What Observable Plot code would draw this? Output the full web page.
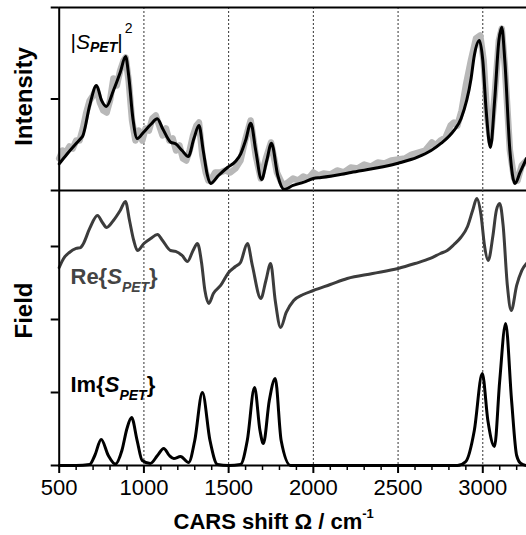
<!DOCTYPE html>
<html><head><meta charset="utf-8">
<script src="https://cdn.jsdelivr.net/npm/d3@7"></script>
<script src="https://cdn.jsdelivr.net/npm/@observablehq/plot@0.6"></script>
<style>
html,body{margin:0;padding:0;background:#fff;}
#wrap{position:relative;width:526px;height:535px;overflow:hidden;background:#fff;}
#wrap svg{position:absolute;left:0;}
</style></head><body><div id="wrap"></div>
<script>
// ---------- data ----------
const majorTicks = [500, 1000, 1500, 2000, 2500, 3000];
const minorTicks = [600, 700, 800, 900, 1100, 1200, 1300, 1400, 1600, 1700, 1800, 1900, 2100, 2200, 2300, 2400, 2600, 2700, 2800, 2900, 3100, 3200];
const gridShifts = [1000, 1500, 2000, 2500, 3000];
const intensityTicks = [0, 1, 2];
const fieldTicks = [0, 1, 2, 3];

// fitted |S_PET|^2 (black)
const fitShift = [500, 549, 600, 626, 640, 680, 720, 750, 778, 820, 860, 892, 910, 935, 961, 998, 1040, 1079, 1110, 1158, 1187, 1225, 1262, 1295, 1325, 1350, 1375, 1393, 1440, 1493, 1540, 1572, 1600, 1631, 1660, 1694, 1725, 1753, 1790, 1827, 1880, 1944, 2000, 2045, 2222, 2500, 2615, 2695, 2753, 2830, 2872, 2931, 2950, 2980, 3000, 3020, 3045, 3070, 3095, 3112, 3130, 3160, 3190, 3220, 3258];
const fitIntensity = [0.291, 0.404, 0.514, 0.565, 0.60, 0.93, 1.148, 0.984, 0.918, 1.093, 1.29, 1.464, 1.257, 0.787, 0.568, 0.637, 0.721, 0.784, 0.678, 0.528, 0.510, 0.437, 0.372, 0.568, 0.710, 0.437, 0.164, 0.077, 0.164, 0.251, 0.317, 0.404, 0.546, 0.736, 0.437, 0.120, 0.328, 0.517, 0.164, 0.011, 0.055, 0.091, 0.131, 0.142, 0.197, 0.298, 0.364, 0.437, 0.514, 0.656, 0.787, 1.224, 1.475, 1.639, 1.421, 0.874, 0.470, 0.984, 1.639, 1.785, 1.421, 0.437, 0.077, 0.197, 0.350];

// measured intensity (grey)
const expShift = [500, 520, 540, 560, 580, 600, 620, 640, 660, 680, 700, 720, 740, 760, 780, 800, 820, 840, 860, 880, 892, 910, 930, 950, 970, 990, 1010, 1030, 1050, 1070, 1090, 1110, 1130, 1150, 1170, 1190, 1210, 1230, 1250, 1270, 1290, 1310, 1325, 1345, 1365, 1380, 1400, 1420, 1450, 1480, 1510, 1540, 1570, 1600, 1630, 1660, 1690, 1720, 1750, 1785, 1820, 1850, 1880, 1910, 1940, 1970, 2000, 2030, 2060, 2100, 2140, 2180, 2220, 2260, 2300, 2340, 2380, 2420, 2460, 2500, 2540, 2580, 2620, 2660, 2700, 2720, 2750, 2780, 2810, 2830, 2850, 2875, 2900, 2930, 2960, 2985, 3005, 3025, 3045, 3070, 3095, 3112, 3130, 3160, 3185, 3205, 3230, 3258];
const expIntensity = [0.35, 0.437, 0.415, 0.481, 0.459, 0.546, 0.546, 0.678, 0.852, 0.984, 1.038, 1.115, 0.962, 0.874, 0.852, 0.984, 1.224, 1.148, 1.311, 1.421, 1.454, 1.202, 0.765, 0.546, 0.656, 0.546, 0.678, 0.656, 0.787, 0.820, 0.710, 0.601, 0.678, 0.546, 0.568, 0.437, 0.492, 0.350, 0.328, 0.437, 0.601, 0.710, 0.743, 0.383, 0.197, 0.109, 0.131, 0.197, 0.197, 0.219, 0.197, 0.240, 0.328, 0.568, 0.765, 0.383, 0.131, 0.350, 0.525, 0.197, 0.055, 0.087, 0.131, 0.109, 0.153, 0.131, 0.197, 0.164, 0.186, 0.175, 0.219, 0.197, 0.251, 0.240, 0.284, 0.262, 0.306, 0.295, 0.328, 0.339, 0.350, 0.393, 0.415, 0.437, 0.525, 0.492, 0.546, 0.579, 0.710, 0.743, 0.710, 0.874, 1.148, 1.421, 1.661, 1.694, 1.421, 0.820, 0.546, 1.038, 1.639, 1.770, 1.366, 0.437, 0.131, 0.109, 0.273, 0.328];

// Re{S_PET}
const reShift = [500, 526, 560, 600, 626, 640, 680, 726, 755, 780, 820, 860, 891, 915, 940, 962, 1000, 1040, 1080, 1110, 1157, 1187, 1225, 1257, 1290, 1316, 1340, 1360, 1383, 1410, 1453, 1500, 1540, 1570, 1611, 1640, 1690, 1720, 1748, 1775, 1807, 1840, 1884, 1940, 2000, 2100, 2200, 2350, 2500, 2600, 2690, 2750, 2790, 2830, 2870, 2910, 2940, 2965, 2990, 3010, 3032, 3060, 3080, 3100, 3120, 3145, 3168, 3200, 3230, 3258];
const reField = [2.712, 2.836, 2.918, 2.973, 2.986, 3.027, 3.247, 3.425, 3.329, 3.260, 3.356, 3.493, 3.616, 3.356, 3.082, 2.945, 3.041, 3.110, 3.164, 3.082, 2.945, 2.932, 2.877, 2.795, 2.945, 3.041, 2.781, 2.397, 2.219, 2.356, 2.466, 2.644, 2.726, 2.781, 3.041, 2.740, 2.288, 2.534, 2.767, 2.260, 1.890, 2.096, 2.260, 2.342, 2.397, 2.479, 2.562, 2.630, 2.699, 2.767, 2.836, 2.904, 2.945, 3.027, 3.123, 3.274, 3.493, 3.658, 3.425, 3.014, 2.808, 3.151, 3.493, 3.589, 3.288, 2.466, 2.123, 2.466, 2.671, 2.767];

// Im{S_PET}
const imShift = [500, 600, 680, 710, 748, 790, 832, 870, 900, 927, 960, 990, 1038, 1080, 1117, 1150, 1176, 1216, 1264, 1300, 1345, 1390, 1434, 1500, 1570, 1610, 1653, 1685, 1705, 1740, 1775, 1810, 1866, 2000, 2500, 2850, 2900, 2950, 2997, 3030, 3069, 3100, 3135, 3170, 3200, 3225, 3258];
const imField = [0, 0, 0.014, 0.137, 0.356, 0.137, 0.02, 0.205, 0.507, 0.658, 0.342, 0.068, 0.027, 0.137, 0.233, 0.137, 0.096, 0.123, 0.041, 0.342, 1.0, 0.342, 0.014, 0, 0.014, 0.342, 1.068, 0.479, 0.301, 0.890, 1.192, 0.342, 0, 0, 0, 0, 0.055, 0.479, 1.26, 0.616, 0.26, 1.164, 1.945, 0.890, 0.137, 0.027, 0];

const zip = (xs, ys) => xs.map((x, i) => ({shift: x, value: ys[i]}));
const fitData = zip(fitShift, fitIntensity);
const expData = zip(expShift, expIntensity);
const reData = zip(reShift, reField);
const imData = zip(imShift, imField);

// ---------- layout ----------
const FONT = "'Liberation Sans', Arial, Helvetica, sans-serif";
const W = 526, ML = 58.7;
const xDomain = [500, 3258];

const topPlot = Plot.plot({
  width: W, height: 191, marginLeft: ML, marginRight: 0, marginTop: 7, marginBottom: 1,
  style: {fontFamily: FONT, background: "transparent", overflow: "visible", color: "#000"},
  x: {domain: xDomain, axis: null},
  y: {domain: [0, 2], axis: null},
  marks: [
    Plot.ruleX(gridShifts, {stroke: "#333", strokeWidth: 1, strokeDasharray: "2,2"}),
    Plot.line(expData, {x: "shift", y: "value", stroke: "#b8b8b8", strokeWidth: 6.5, strokeLinejoin: "round", curve: "linear"}),
    Plot.line(fitData, {x: "shift", y: "value", stroke: "#000", strokeWidth: 3, curve: "monotone-x"}),
    Plot.ruleY([2, 0], {stroke: "#000", strokeWidth: 2}),
    Plot.ruleX([500], {stroke: "#000", strokeWidth: 2}),
    Plot.axisY({ticks: intensityTicks, tickSize: 8, strokeWidth: 2, tickFormat: () => "", label: null}),
    Plot.text(["Intensity"], {frameAnchor: "left", textAnchor: "middle", lineAnchor: "middle", dx: -34.7, dy: -2.5, rotate: -90, fontSize: 24, fontWeight: "bold", fill: "#000"}),
    Plot.text(["LBL_INT"], {frameAnchor: "top-left", textAnchor: "start", lineAnchor: "bottom", dx: 11.3, dy: 41, fontSize: 21, fill: "#000"})
  ]
});

const botPlot = Plot.plot({
  width: W, height: 345, marginLeft: ML, marginRight: 0, marginTop: 0, marginBottom: 70,
  style: {fontFamily: FONT, background: "transparent", overflow: "visible", color: "#000", fontSize: "22px"},
  x: {domain: xDomain, axis: null},
  y: {domain: [0, 3.767], axis: null},
  marks: [
    Plot.ruleX(gridShifts, {stroke: "#333", strokeWidth: 1, strokeDasharray: "2,2"}),
    Plot.line(reData, {x: "shift", y: "value", stroke: "#3c3c3c", strokeWidth: 3, curve: "monotone-x"}),
    Plot.line(imData, {x: "shift", y: "value", stroke: "#000", strokeWidth: 3, curve: "monotone-x"}),
    Plot.ruleY([0], {stroke: "#000", strokeWidth: 2}),
    Plot.ruleX([500], {stroke: "#000", strokeWidth: 2}),
    Plot.axisY({ticks: fieldTicks, tickSize: 8, strokeWidth: 2, tickFormat: () => "", label: null}),
    Plot.axisX({ticks: minorTicks, tickSize: 5, strokeWidth: 1.5, tickFormat: () => "", label: null}),
    Plot.axisX({ticks: majorTicks, tickSize: 8, strokeWidth: 2, tickPadding: 6, tickFormat: d => String(d), label: null, fontSize: 22}),
    Plot.text(["Field"], {frameAnchor: "left", textAnchor: "middle", lineAnchor: "middle", dx: -34.7, dy: -17.5, rotate: -90, fontSize: 24, fontWeight: "bold", fill: "#000"}),
    Plot.text(["LBL_RE"], {frameAnchor: "top-left", textAnchor: "start", lineAnchor: "bottom", dx: 11.3, dy: 93.3, fontSize: 22, fontWeight: "bold", fill: "#444"}),
    Plot.text(["LBL_IM"], {frameAnchor: "top-left", textAnchor: "start", lineAnchor: "bottom", dx: 11.3, dy: 201.7, fontSize: 22, fontWeight: "bold", fill: "#000"}),
    Plot.text(["LBL_X"], {frameAnchor: "bottom-left", textAnchor: "start", lineAnchor: "bottom", dx: 114.3, dy: 63, fontSize: 22, fontWeight: "bold", fill: "#000"})
  ]
});

topPlot.style.top = "0px";
botPlot.style.top = "190px";
const wrap = document.getElementById("wrap");
wrap.appendChild(topPlot);
wrap.appendChild(botPlot);

// rich text labels (sub/superscripts)
function rich(svg, key, parts) {
  d3.select(svg).selectAll("text").filter(function () { return this.textContent === key; }).each(function () {
    const t = d3.select(this);
    t.text(null);
    let cur = 0;
    for (const p of parts) {
      const s = t.append("tspan").text(p.t);
      const shift = p.shift || 0;
      if (shift !== cur) { s.attr("dy", shift - cur); cur = shift; }
      if (p.italic) s.attr("font-style", "italic");
      if (p.size) s.attr("font-size", p.size);
      if (p.weight) s.attr("font-weight", p.weight);
      if (p.dx) s.attr("dx", p.dx);
    }
  });
}
rich(topPlot, "LBL_INT", [
  {t: "|"}, {t: "S", italic: true},
  {t: "PET", italic: true, weight: "bold", size: 14, shift: 3},
  {t: "|", shift: 0}, {t: "2", size: 14, shift: -16, dx: 2}
]);
rich(botPlot, "LBL_RE", [
  {t: "Re{"}, {t: "S", italic: true}, {t: "PET", italic: true, size: 14, shift: 8}, {t: "}", shift: 0}
]);
rich(botPlot, "LBL_IM", [
  {t: "Im{"}, {t: "S", italic: true}, {t: "PET", italic: true, size: 14, shift: 8}, {t: "}", shift: 0}
]);
rich(botPlot, "LBL_X", [
  {t: "CARS shift Ω / cm"}, {t: "-1", size: 13, shift: -11}
]);
</script></body></html>
